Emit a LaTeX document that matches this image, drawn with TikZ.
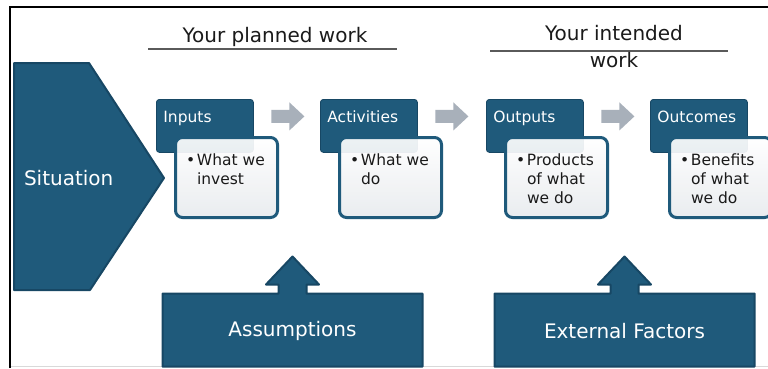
\documentclass[tikz,border=0pt]{standalone}
\usepackage{fontspec}
\setmainfont{DejaVu Sans}
\usetikzlibrary{calc}
\definecolor{lmblue}{HTML}{1F5A7B}
\definecolor{lmedge}{HTML}{174764}
\definecolor{lmgrey}{HTML}{A8B0BA}
\definecolor{lmlow}{HTML}{E8EBEE}
\definecolor{lmink}{HTML}{1A1A1A}
\definecolor{lmrule}{HTML}{5A5A5A}
\begin{document}
\begin{tikzpicture}[x=1pt,y=-1pt,
  every node/.style={inner sep=0pt,outer sep=0pt},
  header/.style={fill=lmblue,draw=lmedge,line width=0.8pt,rounded corners=3pt,
    minimum width=97pt,minimum height=53pt,anchor=north west},
  bodybox/.style={draw=lmblue,line width=3pt,rounded corners=7pt,
    top color=white,bottom color=lmlow,fill opacity=0.92,
    minimum width=102pt,minimum height=80pt,anchor=north west},
  headtext/.style={text=white,font=\fontsize{15.5}{19}\selectfont,anchor=base west},
  bodytext/.style={text=lmink,font=\fontsize{15.5}{19}\selectfont,anchor=base west},
  title/.style={text=lmink,font=\fontsize{20}{27}\selectfont,anchor=base},
  bigtext/.style={text=white,font=\fontsize{20}{24}\selectfont},
  bluefill/.style={fill=lmblue,draw=lmedge,line width=2pt,line join=round},
  flow/.style={fill=lmgrey}
]
\useasboundingbox (0,0) rectangle (768,368);
\clip (0,0) rectangle (768,368);
\fill[white] (0,0) rectangle (768,368);

% outer frame
\draw[black,line width=2.5pt] (10,368) -- (10,7) -- (768,7);
\draw[black!15,line width=1pt] (11,366.5) -- (768,366.5);

% headings
\node[title] (plan) at (275,42) {Your planned work};
\draw[lmrule,line width=1.3pt] (148,49) -- (397,49);
\node[title] (intend) at (614,40) {Your intended};
\draw[lmrule,line width=1.3pt] (490,51) -- (728,51);
\node[title] (intend2) at (614,67) {work};

% situation pentagon
\draw[bluefill] (14,63) -- (89,63) -- (164,178) -- (90,290) -- (14,290) -- cycle;
\node[bigtext,anchor=base west] (sit) at (24,185) {Situation};

% logic-model columns
\foreach \x/\i/\head/\txt in {
  156/1/Inputs/{What we\\invest},
  320/2/Activities/{What we\\do},
  486/3/Outputs/{Products\\of what\\we do},
  650/4/Outcomes/{Benefits\\of what\\we do}}{
  \node[header] (h\i) at (\x+0.4,99.4) {};
  \node[headtext] (ht\i) at ($(h\i.north west)+(7,23)$) {\head};
  \node[bodybox] (b\i) at (\x+19.5,137.5) {};
  \node[bodytext] (t\i) at ($(b\i.north west)+(10.5,27.5)$)
    {\parbox[t]{95pt}{\raggedright\let\\\newline
      \hangindent=11pt\hangafter=1
      \makebox[11pt][l]{•}\txt}};
}

% grey flow arrows between the columns
\foreach \a/\b in {1/2,2/3,3/4}{
  \coordinate (s\a) at ($(h\a.north east)+(18,17)$);
  \fill[flow] (s\a) ++(0,-6.5) -- ++(18,0) -- ++(0,-7.5) -- ++(15,14)
    -- ++(-15,14) -- ++(0,-7.5) -- ++(-18,0) -- cycle;
}

% boxes with upward arrows
\foreach \cx/\n/\lab in {292.5/asm/Assumptions,624.5/ext/External Factors}{
  \node[minimum width=260pt,minimum height=73pt] (\n) at (\cx,330) {};
  \draw[bluefill] (\n.north west) -- ($(\n.north)+(-14,0)$) -- ++(0,-9)
    -- ++(-12.5,0) -- ($(\n.north)+(0,-37)$) -- ($(\n.north)+(26.5,-9)$)
    -- ++(-12.5,0) -- ++(0,9) -- (\n.north east) -- (\n.south east)
    -- (\n.south west) -- cycle;
  \node[bigtext] (\n t) at ($(\n.center)+(0,1)$) {\lab};
}
\end{tikzpicture}
\end{document}
